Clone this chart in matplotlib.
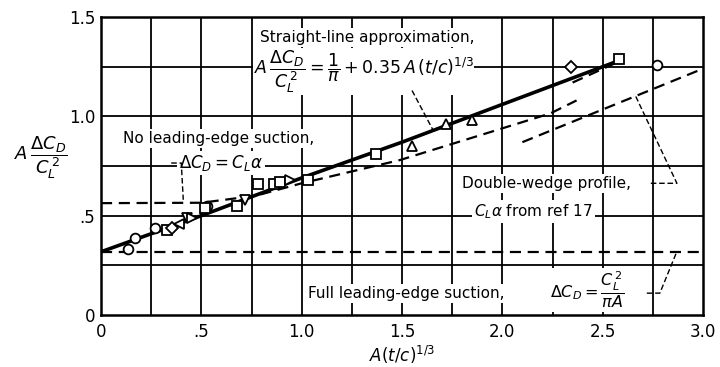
import matplotlib
matplotlib.use("Agg")
import matplotlib.pyplot as plt

plt.rcParams["mathtext.fontset"] = "dejavusans"
plt.rcParams["font.family"] = ["DejaVu Sans"]

# Faired curves: A*dCD/CL^2 against A(t/c)^(1/3)
straight_x = [0.0, 0.5, 1.0, 1.5, 2.0, 2.58]
straight_y = [0.318, 0.50, 0.69, 0.87, 1.06, 1.28]

no_suction_x = [0.0, 0.5, 0.77, 1.0, 1.49, 1.89, 2.24, 2.37]
no_suction_y = [0.563, 0.565, 0.60, 0.663, 0.78, 0.905, 1.015, 1.08]

wedge_x = [2.10, 3.0]
wedge_y = [0.87, 1.24]

upper_dash_x = [2.35, 2.59]
upper_dash_y = [1.17, 1.28]

full_suction_x = [0.0, 3.0]
full_suction_y = [0.318, 0.318]

# Test points by symbol
circle_x = [0.135, 0.17, 0.27, 0.53, 2.77]
circle_y = [0.33, 0.39, 0.44, 0.55, 1.26]
square_x = [0.33, 0.52, 0.68, 0.78, 0.86, 0.89, 1.03, 1.37, 2.58]
square_y = [0.43, 0.54, 0.55, 0.66, 0.66, 0.67, 0.68, 0.81, 1.29]
diamond_x = [0.355, 2.34]
diamond_y = [0.44, 1.25]
tri_left_x = [0.39]
tri_left_y = [0.46]
tri_down_x = [0.43, 0.72]
tri_down_y = [0.49, 0.58]
tri_right_x = [0.455, 0.94]
tri_right_y = [0.49, 0.68]
tri_up_x = [1.55, 1.72, 1.85]
tri_up_y = [0.85, 0.96, 0.98]

x_ticks = [0, 0.5, 1.0, 1.5, 2.0, 2.5, 3.0]
x_tick_labels = ["0", ".5", "1.0", "1.5", "2.0", "2.5", "3.0"]
y_ticks = [0, 0.5, 1.0, 1.5]
y_tick_labels = ["0", ".5", "1.0", "1.5"]
grid_x = [0.25 * i for i in range(1, 12)]
grid_y = [0.25 * i for i in range(1, 6)]

fig = plt.figure(figsize=(7.2, 3.67), dpi=100)
ax = fig.add_axes([101 / 720, 1 - 315 / 367, 602 / 720, 298 / 367])
ax.set_xlim(0, 3.0)
ax.set_ylim(0, 1.5)

for gx in grid_x:
    ax.axvline(gx, color="black", lw=1.3, zorder=1)
for gy in grid_y:
    ax.axhline(gy, color="black", lw=1.3, zorder=1)

for s in ax.spines.values():
    s.set_linewidth(1.8)
    s.set_zorder(6)

ax.set_xticks(x_ticks)
ax.set_xticklabels(x_tick_labels)
ax.set_yticks(y_ticks)
ax.set_yticklabels(y_tick_labels)
ax.tick_params(length=0, labelsize=12, pad=4)
ax.tick_params(axis="x", pad=6)

dash = dict(color="black", lw=1.6, dashes=(5, 3), zorder=3)
ax.plot(straight_x, straight_y, color="black", lw=2.6, zorder=4)
ax.plot(no_suction_x, no_suction_y, **dash)
ax.plot(wedge_x, wedge_y, **dash)
ax.plot(upper_dash_x, upper_dash_y, **dash)
ax.plot(full_suction_x, full_suction_y, **dash)

mk = dict(linestyle="none", mfc="white", mec="black", mew=1.3, ms=7, zorder=5)
ax.plot(circle_x, circle_y, marker="o", **mk)
ax.plot(square_x, square_y, marker="s", **mk)
ax.plot(diamond_x, diamond_y, marker="D", **{**mk, "ms": 6.5})
ax.plot(tri_left_x, tri_left_y, marker="<", **mk)
ax.plot(tri_down_x, tri_down_y, marker="v", **mk)
ax.plot(tri_right_x, tri_right_y, marker=">", **mk)
ax.plot(tri_up_x, tri_up_y, marker="^", **mk)

box = dict(facecolor="white", edgecolor="none", pad=1.5)
tk = dict(fontsize=11, va="center", ha="left", zorder=7, bbox=box)

ax.text(0.79, 1.395, "Straight-line approximation,", **tk)
ax.text(0.76, 1.225,
        r"$A\,\dfrac{\Delta C_D}{C_L^{\,2}} = \dfrac{1}{\pi} + 0.35\,A\,(t/c)^{1/3}$",
        **{**tk, "fontsize": 12.5,
           "bbox": dict(facecolor="white", edgecolor="none", pad=0.3)})
ax.text(0.11, 0.89, "No leading-edge suction,", **tk)
ax.text(0.39, 0.765, r"$\Delta C_D = C_L\alpha$", **{**tk, "fontsize": 12})
ax.text(1.80, 0.663, "Double-wedge profile,", **tk)
ax.text(1.86, 0.52, r"$C_L\alpha$ from ref 17", **tk)
ax.text(1.03, 0.11, "Full leading-edge suction,", **tk)
ax.text(2.24, 0.125, r"$\Delta C_D = \dfrac{C_L^{\,2}}{\pi A}$", **{**tk, "fontsize": 11.5})

lead = dict(color="black", lw=1.0, dashes=(4, 2), zorder=8)
ax.plot([1.55, 1.655], [1.13, 0.93], **lead)
ax.plot([0.35, 0.40, 0.41], [0.765, 0.765, 0.58], **lead)
ax.plot([2.74, 2.87, 2.665], [0.663, 0.663, 1.10], **lead)
ax.plot([2.72, 2.785, 2.87], [0.11, 0.11, 0.32], **lead)

ax.text(-0.30, 0.79, r"$A\,\dfrac{\Delta C_D}{C_L^{\,2}}$", fontsize=13,
        ha="center", va="center", transform=ax.transData, clip_on=False)
ax.set_xlabel(r"$A(t/c)^{1/3}$", fontsize=12, labelpad=2)

fig.savefig("out.png", dpi=100)
